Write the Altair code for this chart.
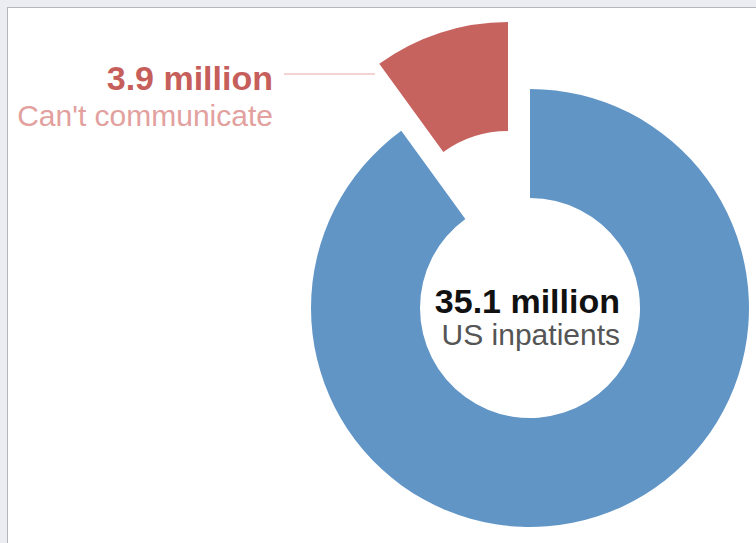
import altair as alt
import pandas as pd

# Data
categories = ["US inpatients", "Can't communicate"]
values = [35.1, 3.9]
orders = [1, 2]
colors = ["#6195c6", "#c7635f"]

center_title = "35.1 million"
center_sub = "US inpatients"
label_title = "3.9 million"
label_sub = "Can't communicate"

df = pd.DataFrame({"cat": categories, "value": values, "ord": orders})

W, H = 756, 543
FONT = "Liberation Sans"

base_bg = alt.Chart(pd.DataFrame({"a": [0]}))

panel = base_bg.mark_rect(fill="white").encode(
    x=alt.value(8), x2=alt.value(W), y=alt.value(8), y2=alt.value(H)
)
left_line = base_bg.mark_rule(color="#b4b5bd", strokeWidth=1).encode(
    x=alt.value(7.5), y=alt.value(7), y2=alt.value(H)
)
top_line = base_bg.mark_rule(color="#b4b5bd", strokeWidth=1).encode(
    x=alt.value(7), x2=alt.value(W), y=alt.value(7.5)
)

color_enc = alt.Color("cat:N", scale=alt.Scale(domain=categories, range=colors), legend=None)
theta_enc = alt.Theta("value:Q", stack=True)
order_enc = alt.Order("ord:Q")

arc_main = alt.Chart(df).mark_arc(radius=219, radius2=110).encode(
    theta=theta_enc,
    order=order_enc,
    color=color_enc,
    opacity=alt.condition(alt.datum.cat == categories[0], alt.value(1), alt.value(0)),
    x=alt.value(530),
    y=alt.value(308),
)
arc_out = alt.Chart(df).mark_arc(radius=219, radius2=110).encode(
    theta=theta_enc,
    order=order_enc,
    color=color_enc,
    opacity=alt.condition(alt.datum.cat == categories[1], alt.value(1), alt.value(0)),
    x=alt.value(508),
    y=alt.value(241),
)

t1 = base_bg.mark_text(align="right", baseline="alphabetic", font=FONT, fontSize=34,
                       fontWeight="bold", color="#c65f5b").encode(
    x=alt.value(273), y=alt.value(90), text=alt.value(label_title))
t2 = base_bg.mark_text(align="right", baseline="alphabetic", font=FONT, fontSize=30,
                       color="#e2a19e").encode(
    x=alt.value(273), y=alt.value(126), text=alt.value(label_sub))
leader = base_bg.mark_rule(color="#e8aaa6", strokeWidth=1.2).encode(
    x=alt.value(284), x2=alt.value(375), y=alt.value(74))
t3 = base_bg.mark_text(align="right", baseline="alphabetic", font=FONT, fontSize=34,
                       fontWeight="bold", color="#111111").encode(
    x=alt.value(620), y=alt.value(313), text=alt.value(center_title))
t4 = base_bg.mark_text(align="right", baseline="alphabetic", font=FONT, fontSize=30,
                       color="#555555").encode(
    x=alt.value(620), y=alt.value(345), text=alt.value(center_sub))

chart = alt.layer(panel, left_line, top_line, arc_main, arc_out, leader, t1, t2, t3, t4).properties(
    width=W, height=H, padding=0, autosize="none", background="#ecedf2"
).configure_view(stroke=None)

chart.save("out.html", embed_options={"renderer": "svg", "actions": False})
